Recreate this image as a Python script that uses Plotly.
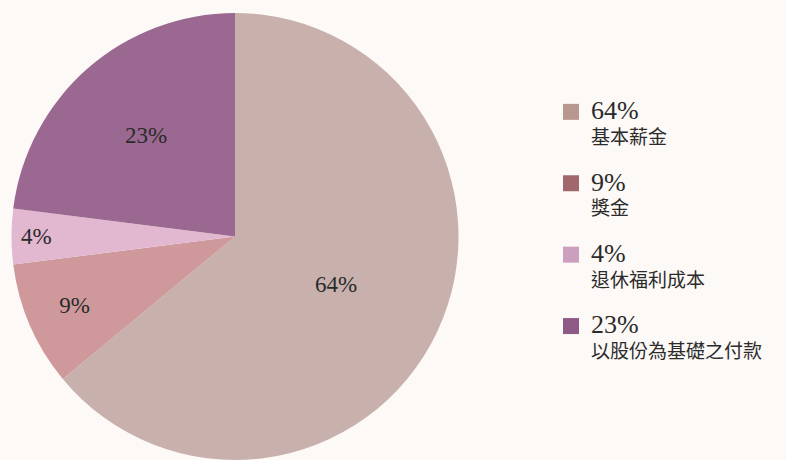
import plotly.graph_objects as go

labels = ["基本薪金", "獎金", "退休福利成本", "以股份為基礎之付款"]
values = [64, 9, 4, 23]
slice_colors = ["#c8b1ad", "#cf989b", "#e2b8d1", "#9a6890"]
legend_colors = ["#b8978f", "#a0686c", "#cc9fbf", "#8c5a84"]

fig = go.Figure()

fig.add_trace(go.Pie(
    labels=labels,
    values=values,
    sort=False,
    direction="clockwise",
    rotation=0,
    marker=dict(colors=slice_colors, line=dict(width=0)),
    texttemplate="%{value}%",
    textposition="inside",
    insidetextorientation="horizontal",
    textfont=dict(family="Liberation Serif", size=23, color="#2b2b2b"),
    showlegend=False,
    hoverinfo="label+value",
    domain=dict(x=[10 / 786, 460 / 786], y=[0, 447 / 460]),
))

for i, (lab, val, col) in enumerate(zip(labels, values, legend_colors)):
    fig.add_trace(go.Scatter(
        x=[None], y=[None],
        mode="markers",
        marker=dict(symbol="square", size=16, color=col),
        name=f'<span style="font-size:26px">{val}%</span><br>{lab}',
        legendgroup=f"g{i}",
        showlegend=True,
    ))

fig.update_layout(
    width=786,
    height=460,
    margin=dict(l=0, r=0, t=0, b=0),
    paper_bgcolor="#fdf9f7",
    plot_bgcolor="#fdf9f7",
    xaxis=dict(visible=False),
    yaxis=dict(visible=False),
    legend=dict(
        x=551 / 786, xanchor="left",
        y=1 - 93 / 460, yanchor="top",
        valign="top",
        tracegroupgap=19,
        font=dict(family="Liberation Serif, Noto Sans CJK TC", size=19, color="#2b2b2b"),
        bgcolor="rgba(0,0,0,0)",
    ),
)

fig.write_html("out.html")
